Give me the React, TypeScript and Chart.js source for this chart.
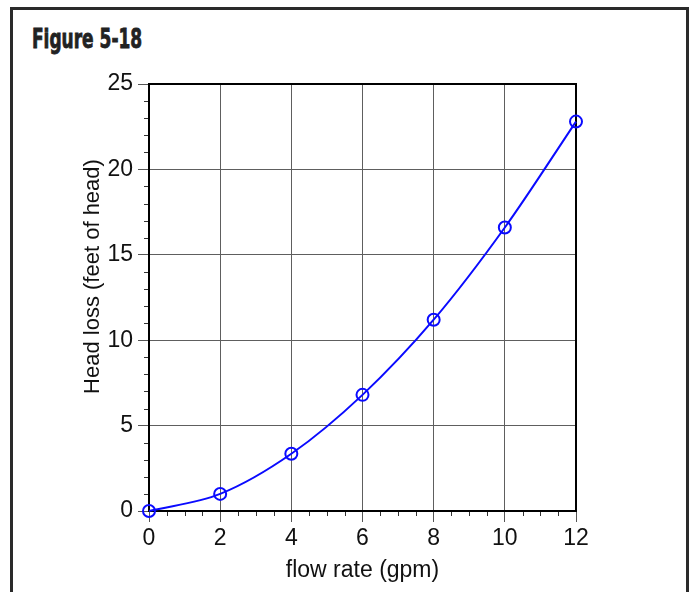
import React, { useEffect, useRef } from "react";
import { Chart, registerables } from "chart.js";

Chart.register(...registerables);

// ---- data ----
const flowRate = [0, 2, 4, 6, 8, 10, 12];
const headLoss = [0, 1.0, 3.35, 6.8, 11.2, 16.6, 22.8];

const X_MIN = 0;
const X_MAX = 12;
const X_STEP = 2;
const X_MINOR = 0.5;
const Y_MIN = 0;
const Y_MAX = 25;
const Y_STEP = 5;
const Y_MINOR = 1;

const FIGURE_TITLE = "Figure 5-18";
const X_TITLE = "flow rate (gpm)";
const Y_TITLE = "Head loss (feet of head)";

const FONT_FAMILY = "'Liberation Sans', Arial, Helvetica, sans-serif";
const SERIES_COLOR = "#0a0aff";

const framePlugin = {
  id: "frameAndMinorTicks",
  beforeDatasetsDraw(chart: any) {
    const { ctx, chartArea: a, scales } = chart;
    const xs = scales.x;
    const ys = scales.y;
    ctx.save();
    ctx.strokeStyle = "#333";
    ctx.lineWidth = 1;
    // y minor ticks
    const ny = Math.round((Y_MAX - Y_MIN) / Y_MINOR);
    for (let i = 0; i <= ny; i++) {
      const v = Y_MIN + i * Y_MINOR;
      if (Math.abs(v / Y_STEP - Math.round(v / Y_STEP)) < 1e-9) continue;
      const py = Math.round(ys.getPixelForValue(v)) + 0.5;
      ctx.beginPath();
      ctx.moveTo(a.left - 5, py);
      ctx.lineTo(a.left, py);
      ctx.stroke();
    }
    // x minor ticks
    const nx = Math.round((X_MAX - X_MIN) / X_MINOR);
    for (let i = 0; i <= nx; i++) {
      const v = X_MIN + i * X_MINOR;
      if (Math.abs(v / X_STEP - Math.round(v / X_STEP)) < 1e-9) continue;
      const px = Math.round(xs.getPixelForValue(v)) + 0.5;
      ctx.beginPath();
      ctx.moveTo(px, a.bottom);
      ctx.lineTo(px, a.bottom + 5);
      ctx.stroke();
    }
    // plot frame
    ctx.strokeStyle = "#000";
    ctx.lineWidth = 2;
    ctx.strokeRect(a.left, a.top, a.right - a.left, a.bottom - a.top);
    // y axis title
    ctx.fillStyle = "#111";
    ctx.font = `22px ${FONT_FAMILY}`;
    ctx.textAlign = "center";
    ctx.textBaseline = "middle";
    ctx.translate(a.left - 56, (a.top + a.bottom) / 2 - 21);
    ctx.rotate(-Math.PI / 2);
    ctx.fillText(Y_TITLE, 0, 0);
    ctx.restore();
  },
};

export default function App() {
  const canvasRef = useRef<HTMLCanvasElement | null>(null);

  useEffect(() => {
    if (!canvasRef.current) return;
    const font = { family: FONT_FAMILY, size: 23 };
    const chart = new Chart(canvasRef.current, {
      type: "line",
      data: {
        datasets: [
          {
            data: flowRate.map((x, i) => ({ x, y: headLoss[i] })),
            borderColor: SERIES_COLOR,
            borderWidth: 2,
            cubicInterpolationMode: "monotone",
            pointStyle: "circle",
            pointRadius: 6,
            pointBorderWidth: 2,
            pointBorderColor: SERIES_COLOR,
            pointBackgroundColor: "rgba(0,0,0,0)",
            fill: false,
            clip: false as any,
          },
        ],
      },
      options: {
        responsive: false,
        animation: false,
        layout: { padding: { left: 0, top: 84, right: 116, bottom: 0 } },
        plugins: {
          legend: { display: false },
          tooltip: { enabled: false },
          title: { display: false },
        },
        scales: {
          x: {
            type: "linear",
            min: X_MIN,
            max: X_MAX,
            ticks: { stepSize: X_STEP, font, color: "#111", padding: 3, maxRotation: 0 },
            grid: { color: "#5e5e5e", lineWidth: 1, tickLength: 11, tickColor: "#555" },
            border: { display: false },
            title: {
              display: true,
              text: X_TITLE,
              font,
              color: "#111",
              padding: { top: 0, bottom: 8 },
            },
            afterFit: (s: any) => {
              s.height = 81;
            },
          },
          y: {
            type: "linear",
            min: Y_MIN,
            max: Y_MAX,
            ticks: { stepSize: Y_STEP, font, color: "#111", padding: 5 },
            grid: { color: "#5e5e5e", lineWidth: 1, tickLength: 11, tickColor: "#555" },
            border: { display: false },
            afterFit: (s: any) => {
              s.width = 149;
            },
          },
        },
      },
      plugins: [framePlugin],
    });
    return () => chart.destroy();
  }, []);

  return (
    <>
      <div
        style={{
          position: "absolute",
          left: 10,
          top: 7,
          width: 679,
          height: 585,
          boxSizing: "border-box",
          borderTop: "3px solid #2a2a2a",
          borderLeft: "3px solid #2a2a2a",
          borderRight: "3px solid #2a2a2a",
          borderBottom: "none",
          background: "#fff",
        }}
      />
      <div
        style={{
          position: "absolute",
          left: 32,
          top: 24,
          fontFamily: "'DejaVu Sans Condensed', 'DejaVu Sans', sans-serif",
          fontStretch: "condensed",
          fontWeight: 700,
          fontSize: 27,
          lineHeight: "30px",
          color: "#222",
          WebkitTextStroke: "0.8px #222",
          transform: "scaleX(0.7)",
          transformOrigin: "left top",
          whiteSpace: "nowrap",
        }}
      >
        {FIGURE_TITLE}
      </div>
      <canvas
        ref={canvasRef}
        width={692}
        height={592}
        style={{ position: "absolute", left: 0, top: 0, width: 692, height: 592 }}
      />
    </>
  );
}
